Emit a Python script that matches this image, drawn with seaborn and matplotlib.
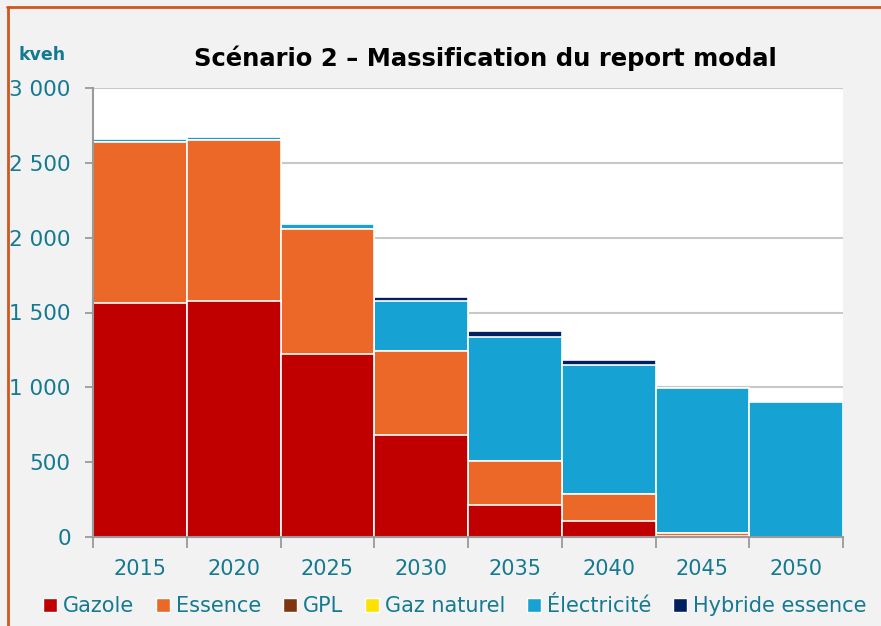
import numpy as np
import pandas as pd
import matplotlib
matplotlib.use("Agg")
import matplotlib.pyplot as plt
from matplotlib.patches import Patch
from matplotlib.lines import Line2D
from matplotlib.ticker import FuncFormatter, FixedLocator
import seaborn as sns

# Parc de véhicules par énergie (milliers de véhicules)
years = ["2015", "2020", "2025", "2030", "2035", "2040", "2045", "2050"]
gazole = [1565, 1579, 1222, 679, 216, 109, 5, 0]
essence = [1074, 1071, 833, 561, 294, 176, 25, 0]
gpl = [0, 0, 0, 0, 0, 0, 0, 0]
gaz_naturel = [0, 0, 0, 0, 0, 0, 0, 0]
electricite = [18, 20, 36, 334, 824, 866, 967, 902]
hybride_essence = [0, 0, 0, 31, 44, 31, 0, 0]

series_names = ["Gazole", "Essence", "GPL", "Gaz naturel", "Électricité", "Hybride essence"]
series_values = [gazole, essence, gpl, gaz_naturel, electricite, hybride_essence]
series_colors = ["#C00000", "#EB6828", "#7F3510", "#FFE100", "#16A3D3", "#002060"]

TEAL = "#147A92"
BG = "#F2F2F2"
NARROW = ["DejaVu Sans Condensed", "DejaVu Sans"]

sns.set_theme(style="white")
plt.rcParams["font.family"] = ["DejaVu Sans"]

df = pd.DataFrame({name: vals for name, vals in zip(series_names, series_values)})
df["Année"] = years
cumul = df[series_names].cumsum(axis=1)

fig = plt.figure(figsize=(8.81, 6.26), dpi=100, facecolor=BG)
ax = fig.add_axes([93 / 881, 1 - 537 / 626, (843 - 93) / 881, (537 - 88) / 626])
ax.set_facecolor("white")

# Superposition des cumuls, du total jusqu'à la première énergie
for name, color in reversed(list(zip(series_names, series_colors))):
    sns.barplot(x=df["Année"], y=cumul[name], color=color, width=1.0,
                edgecolor="white", linewidth=1.2, saturation=1, ax=ax, zorder=3)

ax.set_ylim(0, 3000)
ax.set_xlim(-0.5, len(years) - 0.5)
ax.set_xlabel("")
ax.set_ylabel("")

ax.yaxis.set_major_locator(FixedLocator(np.arange(0, 3001, 500)))
ax.yaxis.set_major_formatter(FuncFormatter(lambda v, p: f"{int(v):,}".replace(",", " ")))
ax.grid(axis="y", color="#C8C8C8", linewidth=1.5, zorder=0)
ax.set_axisbelow(True)

for side in ["top", "right"]:
    ax.spines[side].set_visible(False)
for side in ["left", "bottom"]:
    ax.spines[side].set_color("#9A9A9A")
    ax.spines[side].set_linewidth(1.5)
    ax.spines[side].set_zorder(5)

ax.tick_params(axis="y", which="major", direction="out", length=6, width=1.3,
               color="#9A9A9A", labelcolor=TEAL, labelsize=15.5, pad=10, left=True)
ax.tick_params(axis="x", which="major", length=0, labelcolor=TEAL, labelsize=15, pad=16)
ax.set_xticks(np.arange(-0.5, len(years), 1.0), minor=True)
ax.tick_params(axis="x", which="minor", direction="out", length=8, width=1.3,
               color="#9A9A9A", bottom=True)

fig.text(485 / 881, 1 - 58 / 626, "Scénario 2 – Massification du report modal",
         ha="center", va="center", fontsize=17.5, fontweight="bold", color="black",
         family=NARROW)
fig.text(42 / 881, 1 - 55 / 626, "kveh", ha="center", va="center", fontsize=12.5,
         fontweight="bold", color=TEAL, family=NARROW)

handles = [Patch(facecolor=c, edgecolor="white", linewidth=1) for c in series_colors]
fig.legend(handles, series_names, loc="center", bbox_to_anchor=(455 / 881, 1 - 606 / 626),
           ncol=6, frameon=False, fontsize=15, labelcolor=TEAL, handlelength=0.65,
           handleheight=0.65, handletextpad=0.3, columnspacing=1.05, borderaxespad=0)

# Cadre orange en haut et à gauche
fig.add_artist(Line2D([7 / 881, 1], [1 - 6.5 / 626, 1 - 6.5 / 626], color="#D2561E",
                      linewidth=2, transform=fig.transFigure))
fig.add_artist(Line2D([7.5 / 881, 7.5 / 881], [0, 1 - 6.5 / 626], color="#D2561E",
                      linewidth=2, transform=fig.transFigure))

fig.savefig("out.png", dpi=100, facecolor=BG)
